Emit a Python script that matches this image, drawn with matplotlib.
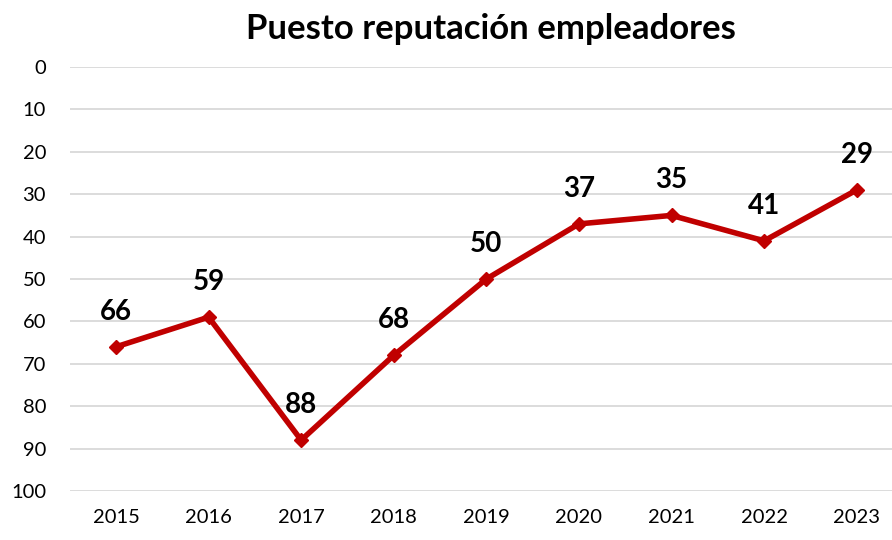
import matplotlib
matplotlib.use("Agg")
import matplotlib.pyplot as plt

years = ["2015", "2016", "2017", "2018", "2019", "2020", "2021", "2022", "2023"]
positions = [66, 59, 88, 68, 50, 37, 35, 41, 29]
yticks = list(range(0, 101, 10))

plt.rcParams['font.family'] = ['Lato', 'DejaVu Sans']

fig = plt.figure(figsize=(8.92, 5.40), dpi=100)
ax = fig.add_axes([69.7/892, 49/540, 833.3/892, 424/540])

x = list(range(len(years)))
ax.plot(x, positions, color="#C00000", linewidth=4, marker="D", markersize=7,
        solid_joinstyle="miter", zorder=3)
for xi, v in zip(x, positions):
    ax.annotate(str(v), (xi, v), xytext=(0, 16), textcoords="offset points",
                ha="center", va="bottom", fontsize=20, fontweight="bold", color="black")

ax.set_xlim(-0.5, len(years) - 0.5)
ax.set_ylim(100, 0)
ax.set_yticks(yticks)
ax.set_xticks(x)
ax.set_xticklabels(years)
ax.yaxis.grid(True, color="#D9D9D9", linewidth=1.3)
ax.set_axisbelow(True)
for s in ax.spines.values():
    s.set_visible(False)
ax.tick_params(axis="both", length=0, labelsize=14.5, colors="black")
ax.tick_params(axis="y", pad=17)
ax.tick_params(axis="x", pad=13)
for lab in ax.get_yticklabels():
    lab.set_horizontalalignment("right")

fig.text(491/892, 1 - 29/540, "Puesto reputación empleadores", ha="center", va="center",
         fontsize=25, fontweight="bold")

fig.savefig("out.png", dpi=100)
